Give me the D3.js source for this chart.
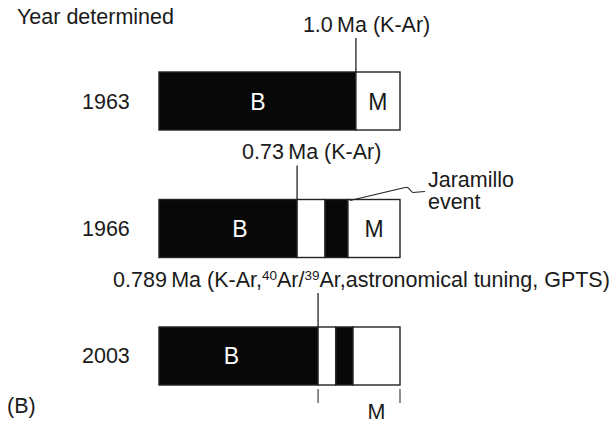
<!DOCTYPE html>
<html>
<head>
<meta charset="utf-8">
<script src="https://cdn.jsdelivr.net/npm/d3@7"></script>
<style>
  html, body { margin: 0; padding: 0; background: #fff; }
  svg { display: block; }
  text { font-family: "Liberation Sans", Arial, Helvetica, sans-serif; fill: #1a1a1a; }
</style>
</head>
<body>
<svg id="chart" width="612" height="426"></svg>
<script>
// ---------------- data (schematic position units 0..100 along each bar) ----------------
const years = ["1963", "1966", "2003"];
const boundaryAges = ["1.0", "0.73", "0.789"];
const boundaryUnits = [81.7, 57.3, 66.0];          // Brunhes / Matuyama boundary
const jaramilloStart = [null, 68.9, 73.4];        // Jaramillo event (normal) start
const jaramilloEnd = [null, 78.4, 80.5];
const methods = [
  [{t: "K-Ar"}],
  [{t: "K-Ar"}],
  [{t: "K-Ar,"}, {t: "40", sup: true}, {t: "Ar/"}, {t: "39", sup: true}, {t: "Ar,astronomical tuning, GPTS"}]
];
const bLabelUnits = [41, 33.6, 30];
const mInsideBar = [true, true, false];

// ---------------- layout ----------------
const W = 612, H = 426;
const FS = 21.5;
const svg = d3.select("#chart");
const x = d3.scaleLinear().domain([0, 100]).range([159, 400]);
const y = d3.scaleBand().domain(years).range([72, 385]).paddingInner(0.545).paddingOuter(0);
const labelStartDx = [-53, -55, -205];

svg.append("text").attr("x", 17).attr("y", 24).attr("font-size", FS).text("Year determined");

function segmentsFor(i) {
  const b = boundaryUnits[i];
  const segs = [{from: 0, to: b, black: true}];
  if (jaramilloStart[i] != null) {
    segs.push({from: b, to: jaramilloStart[i], black: false});
    segs.push({from: jaramilloStart[i], to: jaramilloEnd[i], black: true});
    segs.push({from: jaramilloEnd[i], to: 100, black: false});
  } else {
    segs.push({from: b, to: 100, black: false});
  }
  return segs;
}

years.forEach((yr, i) => {
  const top = y(yr), h = y.bandwidth(), cy = top + h / 2;
  const g = svg.append("g");
  g.append("text").attr("x", 82).attr("y", cy + 7.5).attr("font-size", FS).text(yr);
  g.selectAll("rect.seg").data(segmentsFor(i)).join("rect")
    .attr("class", "seg")
    .attr("x", d => x(d.from)).attr("y", top)
    .attr("width", d => x(d.to) - x(d.from)).attr("height", h)
    .attr("fill", d => d.black ? "#080808" : "#ffffff")
    .attr("stroke", "#222").attr("stroke-width", 1.4);
  g.append("text").attr("x", x(bLabelUnits[i])).attr("y", cy + 8.5)
    .attr("text-anchor", "middle").attr("font-size", FS + 1.5).style("fill", "#fff").text("B");
  const lastFrom = jaramilloEnd[i] != null ? jaramilloEnd[i] : boundaryUnits[i];
  if (mInsideBar[i]) {
    g.append("text").attr("x", x((lastFrom + 100) / 2)).attr("y", cy + 8.5)
      .attr("text-anchor", "middle").attr("font-size", FS + 1.5).text("M");
  }
  const bx = x(boundaryUnits[i]);
  const baseline = top - 40;
  g.append("line").attr("x1", bx).attr("x2", bx).attr("y1", baseline + 6).attr("y2", top)
    .attr("stroke", "#222").attr("stroke-width", 1.3);
  const t = g.append("text").attr("x", bx + labelStartDx[i]).attr("y", baseline).attr("font-size", FS);
  t.append("tspan").text(boundaryAges[i] + "\u2009Ma (");
  let pendingDy = 0;
  methods[i].forEach(p => {
    if (p.sup) {
      t.append("tspan").attr("dy", -7).attr("font-size", 13.5).text(p.t);
      pendingDy = 7;
    } else {
      const s = t.append("tspan").text(p.t);
      if (pendingDy) { s.attr("dy", pendingDy); pendingDy = 0; }
    }
  });
  t.append("tspan").text(")");

  if (yr === "1966") {
    const jx = x(jaramilloEnd[i]) + 2;
    const p = d3.path();
    p.moveTo(jx, top + 1);
    p.lineTo(jx + 55, top - 12);
    p.bezierCurveTo(jx + 60, top - 14, jx + 60, top - 7, jx + 63, top - 7);
    p.lineTo(jx + 75, top - 8);
    g.append("path").attr("d", p.toString()).attr("fill", "none")
      .attr("stroke", "#222").attr("stroke-width", 1.1);
    g.append("text").attr("x", jx + 78).attr("y", top - 12).attr("font-size", FS).text("Jaramillo");
    g.append("text").attr("x", jx + 78).attr("y", top + 10).attr("font-size", FS).text("event");
  }

  if (yr === "2003") {
    const bottom = top + h;
    [boundaryUnits[i], 100].forEach(u => {
      g.append("line").attr("x1", x(u)).attr("x2", x(u))
        .attr("y1", bottom + 4).attr("y2", bottom + 18)
        .attr("stroke", "#333").attr("stroke-width", 1.1);
    });
    g.append("text").attr("x", x((jaramilloEnd[i] + 100) / 2)).attr("y", bottom + 34)
      .attr("text-anchor", "middle").attr("font-size", FS).text("M");
  }
});

svg.append("text").attr("x", 7).attr("y", 413).attr("font-size", FS).text("(B)");
</script>
</body>
</html>
